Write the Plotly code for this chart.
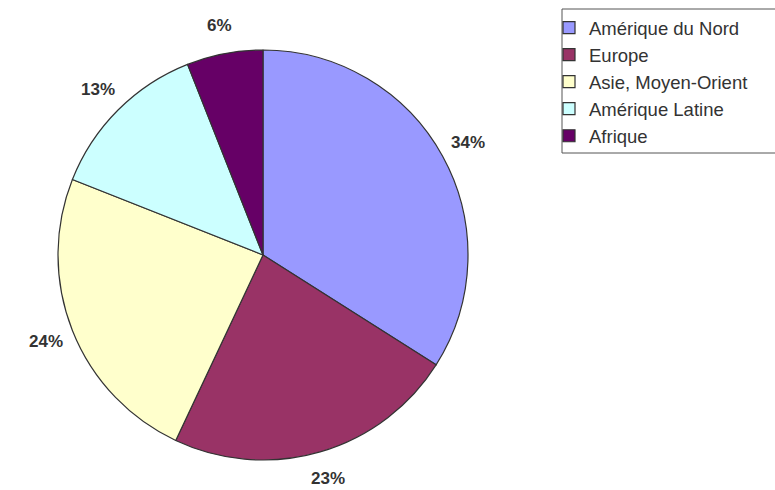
import math
import plotly.graph_objects as go

regions = ["Amérique du Nord", "Europe", "Asie, Moyen-Orient", "Amérique Latine", "Afrique"]
shares = [34, 23, 24, 13, 6]
colors = ["#9999FF", "#993366", "#FFFFCC", "#CCFFFF", "#660066"]

W, H = 775, 490
dom_x = [58 / W, 468 / W]
dom_y = [30 / H, 440 / H]

fig = go.Figure(go.Pie(
    labels=regions,
    values=shares,
    sort=False,
    direction="clockwise",
    rotation=0,
    marker=dict(colors=colors, line=dict(color="#333333", width=1.2)),
    textinfo="none",
    domain=dict(x=dom_x, y=dom_y),
    hoverinfo="label+percent",
))

# percentage labels placed outside the slices, derived from the values
total = sum(shares)
cx = (dom_x[0] + dom_x[1]) / 2 * W
cy = (dom_y[0] + dom_y[1]) / 2 * H
radius = (dom_x[1] - dom_x[0]) * W / 2
cum = 0
for v in shares:
    mid = (cum + v / 2) / total * 2 * math.pi
    cum += v
    r = radius * 1.14
    px = cx + r * math.sin(mid)
    py = cy + r * math.cos(mid)
    py = max(py, 12)  # keep inside the page
    fig.add_annotation(
        x=px / W, y=py / H,
        xref="paper", yref="paper", showarrow=False,
        text=f"<b>{round(v / total * 100)}%</b>",
        font=dict(family="Liberation Sans, Arial", size=17, color="#333333"),
        xanchor="center", yanchor="middle",
    )

# legend frame
fig.add_shape(type="rect", xref="paper", yref="paper",
              x0=562 / W, x1=800 / W, y0=1 - 153 / H, y1=1 - 9 / H,
              line=dict(color="#555555", width=1), fillcolor="rgba(0,0,0,0)")

fig.update_layout(
    width=W, height=H,
    margin=dict(l=0, r=0, t=0, b=0),
    paper_bgcolor="white",
    plot_bgcolor="white",
    showlegend=True,
    legend=dict(
        x=549 / W, y=1 - 9 / H, xanchor="left", yanchor="top",
        bgcolor="rgba(0,0,0,0)", borderwidth=0,
        font=dict(family="Liberation Sans, Arial", size=18.5, color="#333333"),
        tracegroupgap=0, itemwidth=30,
    ),
)

fig.write_html("out.html", config={"displayModeBar": False},
               post_script="document.body.style.margin='0';")
